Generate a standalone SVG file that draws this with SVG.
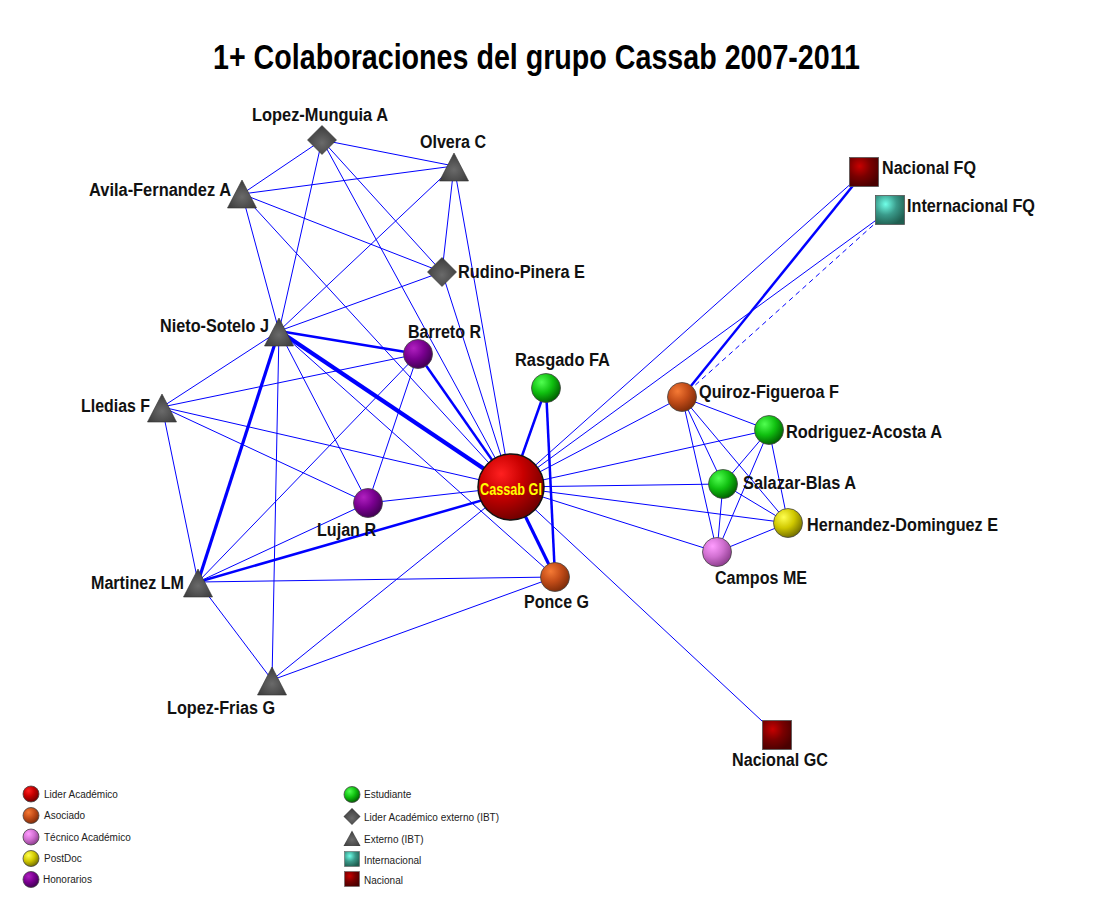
<svg xmlns="http://www.w3.org/2000/svg" width="1100" height="900" viewBox="0 0 1100 900">
<defs>
<style>
.e{stroke:#0000ff;stroke-width:1;fill:none}
.m{stroke-width:2.5}
.k{stroke-width:3.2}
.w{stroke-width:4.2}
.d{stroke-dasharray:5 4}
.lb{font-family:"Liberation Sans Narrow","Liberation Sans",Arial,sans-serif;font-weight:bold;font-size:18px;fill:#111}
.lg{font-family:"Liberation Sans",Arial,sans-serif;font-size:10px;fill:#222}
.ttl{font-family:"Liberation Sans Narrow","Liberation Sans",Arial,sans-serif;font-weight:bold;font-size:35px;fill:#000}
.nb{stroke:#444;stroke-width:0.8}
</style>
<radialGradient id="gRed" cx="35%" cy="30%" r="75%"><stop offset="0" stop-color="#ff2020"/><stop offset="0.45" stop-color="#c80000"/><stop offset="1" stop-color="#6a0000"/></radialGradient>
<radialGradient id="gOrange" cx="35%" cy="30%" r="75%"><stop offset="0" stop-color="#f57a35"/><stop offset="0.5" stop-color="#c24c18"/><stop offset="1" stop-color="#7a2a08"/></radialGradient>
<radialGradient id="gPink" cx="35%" cy="30%" r="75%"><stop offset="0" stop-color="#ff9cff"/><stop offset="0.5" stop-color="#d070d0"/><stop offset="1" stop-color="#8a3a8a"/></radialGradient>
<radialGradient id="gYellow" cx="35%" cy="30%" r="75%"><stop offset="0" stop-color="#ffff50"/><stop offset="0.5" stop-color="#d0c800"/><stop offset="1" stop-color="#6e6a00"/></radialGradient>
<radialGradient id="gPurple" cx="35%" cy="30%" r="75%"><stop offset="0" stop-color="#b020c0"/><stop offset="0.5" stop-color="#7a0090"/><stop offset="1" stop-color="#3e0050"/></radialGradient>
<radialGradient id="gGreen" cx="35%" cy="30%" r="75%"><stop offset="0" stop-color="#50ff50"/><stop offset="0.5" stop-color="#10c010"/><stop offset="1" stop-color="#005a00"/></radialGradient>
<radialGradient id="gGray" cx="50%" cy="60%" r="65%"><stop offset="0" stop-color="#6a6a6a"/><stop offset="1" stop-color="#383838"/></radialGradient>
<radialGradient id="gTeal" cx="35%" cy="30%" r="75%"><stop offset="0" stop-color="#70ffe8"/><stop offset="0.5" stop-color="#3a9a8a"/><stop offset="1" stop-color="#1f5e50"/></radialGradient>
<radialGradient id="gDark" cx="35%" cy="30%" r="75%"><stop offset="0" stop-color="#c80000"/><stop offset="0.5" stop-color="#7a0000"/><stop offset="1" stop-color="#4a0000"/></radialGradient>
<polygon id="tri" points="0,-14 -14.5,14 14.5,14" fill="url(#gGray)" stroke="#333" stroke-width="0.6"/>
<polygon id="dia" points="0,-14.5 14.5,0 0,14.5 -14.5,0" fill="url(#gGray)" stroke="#333" stroke-width="0.6"/>
<rect id="sqN" x="-14.5" y="-14.5" width="29" height="29" fill="url(#gDark)" stroke="#555" stroke-width="0.8"/>
<rect id="sqI" x="-14.5" y="-14.5" width="29" height="29" fill="url(#gTeal)" stroke="#555" stroke-width="0.8"/>
</defs>
<rect width="1100" height="900" fill="#fff"/>
<text class="ttl" x="213" y="69" textLength="647" lengthAdjust="spacingAndGlyphs">1+ Colaboraciones del grupo Cassab 2007-2011</text>

<g id="edges">
<line class="e" x1="322" y1="140" x2="454" y2="166"/>
<line class="e" x1="322" y1="140" x2="242" y2="194"/>
<line class="e" x1="322" y1="140" x2="279" y2="331"/>
<line class="e" x1="322" y1="140" x2="442" y2="272"/>
<line class="e" x1="322" y1="140" x2="511" y2="487"/>
<line class="e" x1="454" y1="166" x2="242" y2="194"/>
<line class="e" x1="454" y1="166" x2="279" y2="331"/>
<line class="e" x1="454" y1="166" x2="442" y2="272"/>
<line class="e" x1="454" y1="166" x2="511" y2="487"/>
<line class="e" x1="242" y1="194" x2="442" y2="272"/>
<line class="e" x1="242" y1="194" x2="279" y2="331"/>
<line class="e" x1="242" y1="194" x2="511" y2="487"/>
<line class="e" x1="442" y1="272" x2="279" y2="331"/>
<line class="e" x1="442" y1="272" x2="511" y2="487"/>
<line class="e m" x1="279" y1="331" x2="418" y2="354"/>
<line class="e w" x1="279" y1="331" x2="511" y2="487"/>
<line class="e" x1="279" y1="331" x2="162" y2="407"/>
<line class="e k" x1="279" y1="331" x2="198" y2="582"/>
<line class="e" x1="279" y1="331" x2="272" y2="680"/>
<line class="e" x1="279" y1="331" x2="368" y2="503"/>
<line class="e" x1="279" y1="331" x2="555" y2="577"/>
<line class="e" x1="418" y1="354" x2="162" y2="407"/>
<line class="e" x1="418" y1="354" x2="368" y2="503"/>
<line class="e" x1="418" y1="354" x2="198" y2="582"/>
<line class="e m" x1="418" y1="354" x2="511" y2="487"/>
<line class="e" x1="162" y1="407" x2="511" y2="487"/>
<line class="e" x1="162" y1="407" x2="368" y2="503"/>
<line class="e" x1="162" y1="407" x2="198" y2="582"/>
<line class="e" x1="368" y1="503" x2="198" y2="582"/>
<line class="e" x1="368" y1="503" x2="511" y2="487"/>
<line class="e m" x1="198" y1="582" x2="511" y2="492"/>
<line class="e" x1="198" y1="582" x2="555" y2="577"/>
<line class="e" x1="198" y1="582" x2="272" y2="680"/>
<line class="e" x1="272" y1="680" x2="511" y2="487"/>
<line class="e" x1="272" y1="680" x2="555" y2="577"/>
<line class="e k" x1="555" y1="577" x2="511" y2="487"/>
<line class="e m" x1="546" y1="388" x2="511" y2="487"/>
<line class="e m" x1="546" y1="388" x2="555" y2="577"/>
<line class="e" x1="682" y1="397" x2="511" y2="487"/>
<line class="e m" x1="682" y1="397" x2="864" y2="172"/>
<line class="e d" x1="682" y1="397" x2="890" y2="210"/>
<line class="e" x1="682" y1="397" x2="769" y2="430"/>
<line class="e" x1="682" y1="397" x2="723" y2="484"/>
<line class="e" x1="682" y1="397" x2="788" y2="523"/>
<line class="e" x1="682" y1="397" x2="717" y2="552"/>
<line class="e" x1="769" y1="430" x2="511" y2="487"/>
<line class="e" x1="769" y1="430" x2="723" y2="484"/>
<line class="e" x1="769" y1="430" x2="788" y2="523"/>
<line class="e" x1="769" y1="430" x2="717" y2="552"/>
<line class="e" x1="723" y1="484" x2="511" y2="487"/>
<line class="e" x1="723" y1="484" x2="788" y2="523"/>
<line class="e" x1="723" y1="484" x2="717" y2="552"/>
<line class="e" x1="788" y1="523" x2="511" y2="487"/>
<line class="e" x1="788" y1="523" x2="717" y2="552"/>
<line class="e" x1="717" y1="552" x2="511" y2="487"/>
<line class="e" x1="864" y1="172" x2="511" y2="487"/>
<line class="e" x1="890" y1="210" x2="511" y2="487"/>
<line class="e" x1="777" y1="735" x2="511" y2="487"/>
</g>

<g id="n-lopez-munguia"><use href="#dia" x="322" y="140"/><text class="lb" x="252" y="121" textLength="136" lengthAdjust="spacingAndGlyphs">Lopez-Munguia A</text></g>
<g id="n-olvera"><use href="#tri" x="454" y="167"/><text class="lb" x="420" y="148" textLength="66" lengthAdjust="spacingAndGlyphs">Olvera C</text></g>
<g id="n-avila"><use href="#tri" x="242" y="194"/><text class="lb" x="89" y="196" textLength="142" lengthAdjust="spacingAndGlyphs">Avila-Fernandez A</text></g>
<g id="n-rudino"><use href="#dia" x="442" y="272"/><text class="lb" x="458" y="278" textLength="127" lengthAdjust="spacingAndGlyphs">Rudino-Pinera E</text></g>
<g id="n-nieto"><use href="#tri" x="279" y="332"/><text class="lb" x="160" y="332" textLength="109" lengthAdjust="spacingAndGlyphs">Nieto-Sotelo J</text></g>
<g id="n-barreto"><circle cx="418" cy="354" r="14.5" fill="url(#gPurple)" class="nb"/><text class="lb" x="408" y="338" textLength="73" lengthAdjust="spacingAndGlyphs">Barreto R</text></g>
<g id="n-rasgado"><circle cx="546" cy="388" r="14.5" fill="url(#gGreen)" class="nb"/><text class="lb" x="515" y="366" textLength="95" lengthAdjust="spacingAndGlyphs">Rasgado FA</text></g>
<g id="n-lledias"><use href="#tri" x="162" y="408"/><text class="lb" x="81" y="412" textLength="69" lengthAdjust="spacingAndGlyphs">Lledias F</text></g>
<g id="n-lujan"><circle cx="368" cy="503" r="14.5" fill="url(#gPurple)" class="nb"/><text class="lb" x="317" y="536" textLength="59" lengthAdjust="spacingAndGlyphs">Lujan R</text></g>
<g id="n-martinez"><use href="#tri" x="198" y="583"/><text class="lb" x="91" y="589" textLength="93" lengthAdjust="spacingAndGlyphs">Martinez LM</text></g>
<g id="n-ponce"><circle cx="555" cy="577" r="14.5" fill="url(#gOrange)" class="nb"/><text class="lb" x="524" y="608" textLength="65" lengthAdjust="spacingAndGlyphs">Ponce G</text></g>
<g id="n-lopez-frias"><use href="#tri" x="272" y="681"/><text class="lb" x="167" y="714" textLength="108" lengthAdjust="spacingAndGlyphs">Lopez-Frias G</text></g>
<g id="n-cassab"><circle cx="511" cy="487" r="33" fill="url(#gRed)" stroke="#111" stroke-width="1.5"/><text x="480" y="494.5" textLength="62" lengthAdjust="spacingAndGlyphs" style="font-family:'Liberation Sans Narrow','Liberation Sans',Arial,sans-serif;font-weight:bold;font-size:16px;fill:#ffff00">Cassab GI</text></g>
<g id="n-quiroz"><circle cx="682" cy="397" r="14.5" fill="url(#gOrange)" class="nb"/><text class="lb" x="699" y="398" textLength="140" lengthAdjust="spacingAndGlyphs">Quiroz-Figueroa F</text></g>
<g id="n-rodriguez"><circle cx="769" cy="430" r="14.5" fill="url(#gGreen)" class="nb"/><text class="lb" x="786" y="438" textLength="156" lengthAdjust="spacingAndGlyphs">Rodriguez-Acosta A</text></g>
<g id="n-salazar"><circle cx="723" cy="484" r="14.5" fill="url(#gGreen)" class="nb"/><text class="lb" x="743" y="489" textLength="113" lengthAdjust="spacingAndGlyphs">Salazar-Blas A</text></g>
<g id="n-hernandez"><circle cx="788" cy="523" r="14.5" fill="url(#gYellow)" class="nb"/><text class="lb" x="807" y="531" textLength="191" lengthAdjust="spacingAndGlyphs">Hernandez-Dominguez E</text></g>
<g id="n-campos"><circle cx="717" cy="552" r="14.5" fill="url(#gPink)" class="nb"/><text class="lb" x="715" y="584" textLength="92" lengthAdjust="spacingAndGlyphs">Campos ME</text></g>
<g id="n-nacional-fq"><use href="#sqN" x="864" y="172"/><text class="lb" x="882" y="174" textLength="94" lengthAdjust="spacingAndGlyphs">Nacional FQ</text></g>
<g id="n-internacional-fq"><use href="#sqI" x="890" y="210"/><text class="lb" x="907" y="212" textLength="128" lengthAdjust="spacingAndGlyphs">Internacional FQ</text></g>
<g id="n-nacional-gc"><use href="#sqN" x="777" y="735"/><text class="lb" x="732" y="766" textLength="96" lengthAdjust="spacingAndGlyphs">Nacional GC</text></g>

<g id="legend">
<circle cx="31" cy="794" r="8" fill="url(#gRed)" class="nb"/><text class="lg" x="44" y="797.5">Lider Académico</text>
<circle cx="31" cy="815.5" r="8" fill="url(#gOrange)" class="nb"/><text class="lg" x="44" y="819">Asociado</text>
<circle cx="31" cy="837" r="8" fill="url(#gPink)" class="nb"/><text class="lg" x="44" y="840.5">Técnico Académico</text>
<circle cx="31" cy="858.5" r="8" fill="url(#gYellow)" class="nb"/><text class="lg" x="44" y="862">PostDoc</text>
<circle cx="31" cy="879.5" r="8" fill="url(#gPurple)" class="nb"/><text class="lg" x="43" y="883">Honorarios</text>
<circle cx="352" cy="794.5" r="8" fill="url(#gGreen)" class="nb"/><text class="lg" x="364" y="798">Estudiante</text>
<polygon points="352,808 360.5,816.5 352,825 343.5,816.5" fill="url(#gGray)"/><text class="lg" x="364" y="820.5">Lider Académico externo (IBT)</text>
<polygon points="352,830.5 360.5,846 343.5,846" fill="url(#gGray)"/><text class="lg" x="364" y="843">Externo (IBT)</text>
<rect x="344.5" y="851.5" width="15" height="15" fill="url(#gTeal)" stroke="#666" stroke-width="0.6"/><text class="lg" x="364" y="864">Internacional</text>
<rect x="344.5" y="871.5" width="15" height="15" fill="url(#gDark)" stroke="#666" stroke-width="0.6"/><text class="lg" x="364" y="884">Nacional</text>
</g>
</svg>
